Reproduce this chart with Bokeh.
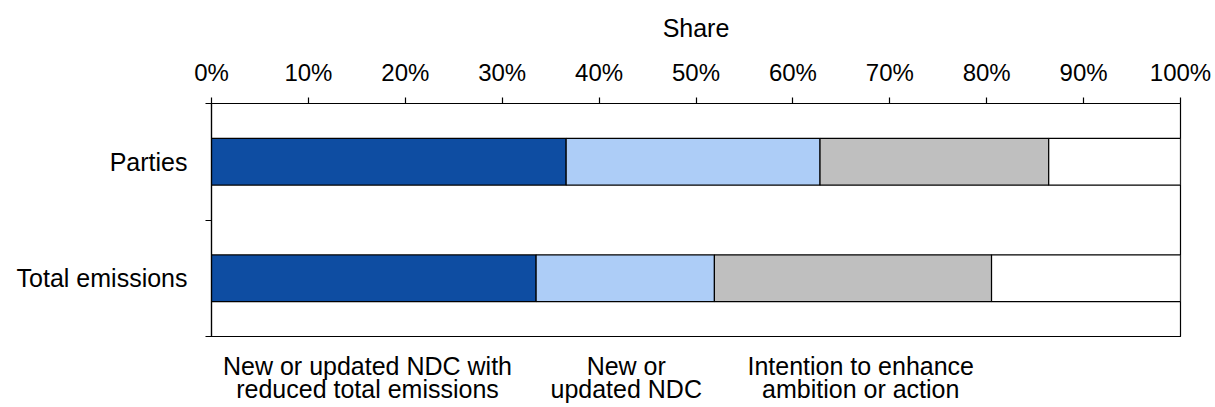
from bokeh.plotting import figure
from bokeh.models import ColumnDataSource, Range1d, FixedTicker, LinearAxis
from bokeh.embed import file_html
from bokeh.resources import INLINE

# Shares (%) per category, stacked left to right
categories = ["Parties", "Total emissions"]
reduced_emissions = [36.6, 33.5]
updated_ndc = [26.2, 18.4]
intention = [23.6, 28.6]
remainder = [13.6, 19.5]

# descriptions of the first three segments
segment_labels = [
    "New or updated NDC with\nreduced total emissions",
    "New or\nupdated NDC",
    "Intention to enhance\nambition or action",
]
segment_label_x = [16.1, 42.8, 67.0]

x_ticks = list(range(0, 101, 10))
x_tick_labels = [f"{t}%" for t in x_ticks]

FONT = "Liberation Sans"
FS = "25px"
TICK_FS = "24px"

n = len(categories)
y_pos = [n - i - 0.5 for i in range(n)]

src = ColumnDataSource(dict(
    y=y_pos,
    reduced=reduced_emissions,
    updated=updated_ndc,
    intention=intention,
    remainder=remainder,
))

p = figure(
    width=1215, height=407,
    x_range=Range1d(0, 100), y_range=Range1d(0, n),
    x_axis_location="above",
    output_backend="svg", toolbar_location=None,
    min_border_left=211, min_border_right=35,
    min_border_top=103, min_border_bottom=71,
)

p.hbar_stack(
    ["reduced", "updated", "intention", "remainder"], y="y", height=0.4,
    source=src,
    fill_color=["#0E4DA2", "#ADCDF7", "#BFBFBF", "#FFFFFF"],
    line_color="black", line_width=1.2,
)

p.grid.visible = False
p.outline_line_color = "black"
p.outline_line_width = 1.2
p.background_fill_color = "white"
p.border_fill_color = "white"

# top percentage axis
xa = p.xaxis[0]
xa.ticker = FixedTicker(ticks=x_ticks)
xa.major_label_overrides = {t: s for t, s in zip(x_ticks, x_tick_labels)}
xa.axis_label = "Share"
xa.axis_label_text_font = FONT
xa.axis_label_text_font_size = FS
xa.axis_label_text_font_style = "normal"
xa.axis_label_text_color = "black"
xa.major_label_text_font = FONT
xa.major_label_text_font_size = TICK_FS
xa.major_label_text_color = "black"
xa.major_tick_out = 6
xa.major_tick_in = 0
xa.minor_tick_line_color = None
xa.axis_line_color = "black"
xa.axis_line_width = 1.2
xa.major_tick_line_width = 1.2
xa.major_label_standoff = 12
xa.axis_label_standoff = 14

# category axis: names at bar centres, ticks at boundaries
ya = p.yaxis[0]
ya.ticker = FixedTicker(ticks=y_pos, minor_ticks=[float(k) for k in range(n + 1)])
ya.major_label_overrides = {y: c for y, c in zip(y_pos, categories)}
ya.major_tick_line_color = None
ya.major_tick_out = 0
ya.major_tick_in = 0
ya.minor_tick_out = 6
ya.minor_tick_in = 0
ya.minor_tick_line_color = "black"
ya.minor_tick_line_width = 1.2
ya.axis_line_color = "black"
ya.axis_line_width = 1.2
ya.major_label_text_font = FONT
ya.major_label_text_font_size = FS
ya.major_label_text_color = "black"
ya.major_label_standoff = 18

# segment descriptions beneath the chart
bx = LinearAxis(ticker=FixedTicker(ticks=segment_label_x))
bx.major_label_overrides = {x: s for x, s in zip(segment_label_x, segment_labels)}
bx.major_tick_line_color = None
bx.major_tick_out = 0
bx.major_tick_in = 0
bx.minor_tick_line_color = None
bx.axis_line_color = "black"
bx.axis_line_width = 1.2
bx.major_label_text_font = FONT
bx.major_label_text_font_size = FS
bx.major_label_text_color = "black"
bx.major_label_text_line_height = 0.85
bx.major_label_standoff = 15
p.add_layout(bx, "below")

open("out.html", "w").write(file_html(p, INLINE))
